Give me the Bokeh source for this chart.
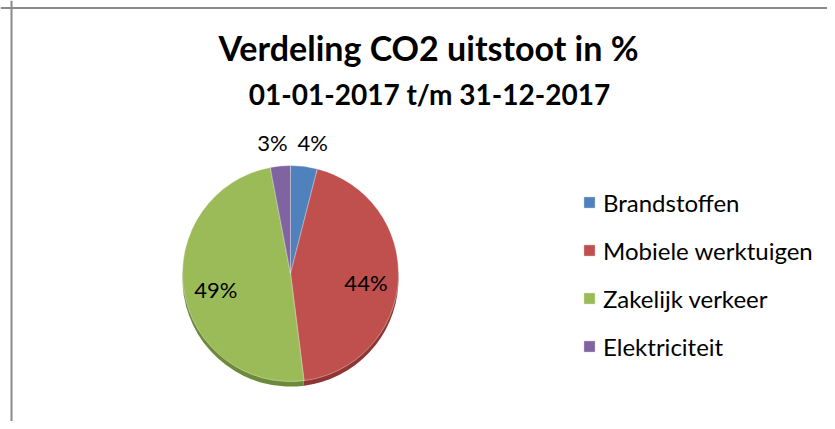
import numpy as np
from bokeh.plotting import figure
from bokeh.models import Range1d, Span, Label, Legend, LegendItem, ColumnDataSource
from bokeh.core.properties import value
from bokeh.embed import file_html
from bokeh.resources import INLINE

# ---- data ----
categories = ["Brandstoffen", "Mobiele werktuigen", "Zakelijk verkeer", "Elektriciteit"]
shares = [4, 44, 49, 3]
pct_labels = ["4%", "44%", "49%", "3%"]
colors = ["#4F81BD", "#C0504D", "#9BBB59", "#8064A2"]
rim_colors = ["#3a6294", "#8f3532", "#6d8a3a", "#5d4879"]
title_text = "Verdeling CO2 uitstoot in %"
subtitle_text = "01-01-2017 t/m 31-12-2017"

W, H = 827, 421
p = figure(width=W, height=H, output_backend="svg", toolbar_location=None,
           x_range=Range1d(0, W), y_range=Range1d(0, H),
           x_axis_type=None, y_axis_type=None, min_border=0)
p.grid.visible = False
p.outline_line_color = None
p.background_fill_color = "white"
p.border_fill_color = "white"

# frame lines (top / left)
p.add_layout(Span(location=H - 7.5, dimension="width", line_color="#8a8a8a", line_width=2))
p.add_layout(Span(location=11, dimension="height", line_color="#8a8a8a", line_width=2))

# pie
cx, cy, R = 290, 148, 108
frac = np.array(shares, dtype=float) / sum(shares)
cum = np.concatenate([[0], np.cumsum(frac)])
start = np.pi / 2 - 2 * np.pi * cum[:-1]
end = np.pi / 2 - 2 * np.pi * cum[1:]
mid = np.pi / 2 - 2 * np.pi * (cum[:-1] + frac / 2)

src = ColumnDataSource(dict(cat=categories, start=start, end=end, color=colors,
                            rim=rim_colors))
# 3D rim underneath
p.wedge(x=cx, y=cy - 5, radius=R, start_angle="start", end_angle="end",
        direction="clock", fill_color="rim", line_color=None, source=src)
pie = p.wedge(x=cx, y=cy, radius=R, start_angle="start", end_angle="end",
              direction="clock", fill_color="color", line_color="white",
              line_width=0.6, line_alpha=0.6, source=src)

# percentage labels
small = frac < 0.05
lr = np.where(small, R + 21, R * 0.70)
lx = cx + lr * np.cos(mid) + np.where(small, np.sign(np.cos(mid)) * 6, 0)
ly = cy + lr * np.sin(mid) + np.where(small, 3, -4)
p.text(x=lx, y=ly, text=pct_labels, text_font=value("Lato"), text_font_size="22px",
       text_align="center", text_baseline="middle", text_color="black")

# titles
p.add_layout(Label(x=428, y=374, text=title_text, text_font="Lato", text_font_style="bold",
                   text_font_size="34px", text_align="center", text_baseline="middle",
                   text_color="black"))
p.add_layout(Label(x=429, y=328, text=subtitle_text, text_font="Lato", text_font_style="bold",
                   text_font_size="28px", text_align="center", text_baseline="middle",
                   text_color="black"))

# legend
items = [LegendItem(label=c, renderers=[pie], index=i) for i, c in enumerate(categories)]
legend = Legend(items=items, location=(582, 60), orientation="vertical",
                glyph_width=14, glyph_height=14, label_height=30, spacing=18,
                label_standoff=7, padding=0, margin=0,
                label_text_font="Lato", label_text_font_size="24px",
                label_text_color="black", border_line_color=None,
                background_fill_alpha=0)
p.add_layout(legend)

open("out.html", "w").write(file_html(p, INLINE))
